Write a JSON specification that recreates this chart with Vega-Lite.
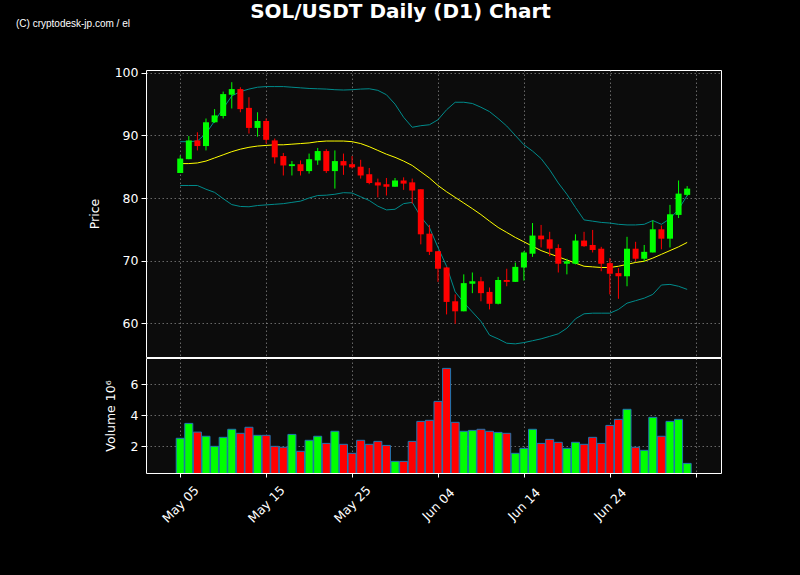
{
  "$schema": "https://vega.github.io/schema/vega-lite/v6.json",
  "background": "#000000",
  "padding": {"left": 15, "top": 2, "right": 80, "bottom": 50},
  "title": {
    "text": "SOL/USDT Daily (D1) Chart",
    "anchor": "middle",
    "font": "DejaVu Sans",
    "fontSize": 20,
    "fontWeight": "bold",
    "color": "white",
    "baseline": "alphabetic",
    "dx": 32,
    "offset": -20
  },
  "datasets": {
    "sol": [
      {"date": "2024-05-05T00:00:00", "open": 84.0, "high": 86.8, "low": 84.0, "close": 86.3, "volume": 2.52, "mid": 85.5, "upper": 89.0, "lower": 82.0},
      {"date": "2024-05-06T00:00:00", "open": 86.2, "high": 89.9, "low": 86.2, "close": 89.2, "volume": 3.48, "mid": 85.5, "upper": 89.0, "lower": 82.0},
      {"date": "2024-05-07T00:00:00", "open": 89.2, "high": 90.5, "low": 87.6, "close": 88.3, "volume": 2.92, "mid": 85.6, "upper": 89.1, "lower": 82.0},
      {"date": "2024-05-08T00:00:00", "open": 88.3, "high": 92.7, "low": 87.6, "close": 92.1, "volume": 2.65, "mid": 85.9, "upper": 90.3, "lower": 81.4},
      {"date": "2024-05-09T00:00:00", "open": 92.1, "high": 94.2, "low": 92.0, "close": 93.2, "volume": 2.00, "mid": 86.4, "upper": 92.3, "lower": 80.9},
      {"date": "2024-05-10T00:00:00", "open": 93.1, "high": 97.0, "low": 92.7, "close": 96.6, "volume": 2.58, "mid": 86.9, "upper": 94.3, "lower": 79.9},
      {"date": "2024-05-11T00:00:00", "open": 96.5, "high": 98.5, "low": 94.3, "close": 97.4, "volume": 3.10, "mid": 87.4, "upper": 96.3, "lower": 78.95},
      {"date": "2024-05-12T00:00:00", "open": 97.4, "high": 97.7, "low": 93.7, "close": 94.2, "volume": 2.84, "mid": 87.8, "upper": 97.0, "lower": 78.65},
      {"date": "2024-05-13T00:00:00", "open": 94.4, "high": 96.1, "low": 90.3, "close": 91.2, "volume": 3.23, "mid": 88.1, "upper": 97.4, "lower": 78.6},
      {"date": "2024-05-14T00:00:00", "open": 91.2, "high": 93.7, "low": 89.8, "close": 92.3, "volume": 2.71, "mid": 88.3, "upper": 97.7, "lower": 78.8},
      {"date": "2024-05-15T00:00:00", "open": 92.3, "high": 92.7, "low": 88.7, "close": 89.3, "volume": 2.71, "mid": 88.4, "upper": 97.8, "lower": 78.9},
      {"date": "2024-05-16T00:00:00", "open": 89.2, "high": 89.5, "low": 85.5, "close": 86.5, "volume": 2.00, "mid": 88.5, "upper": 97.8, "lower": 79.0},
      {"date": "2024-05-17T00:00:00", "open": 86.7, "high": 87.2, "low": 83.6, "close": 85.2, "volume": 1.94, "mid": 88.5, "upper": 97.8, "lower": 79.1},
      {"date": "2024-05-18T00:00:00", "open": 85.1, "high": 85.9, "low": 83.6, "close": 85.4, "volume": 2.77, "mid": 88.6, "upper": 97.7, "lower": 79.3},
      {"date": "2024-05-19T00:00:00", "open": 85.4, "high": 86.0, "low": 83.6, "close": 84.3, "volume": 1.68, "mid": 88.7, "upper": 97.6, "lower": 79.5},
      {"date": "2024-05-20T00:00:00", "open": 84.3, "high": 87.1, "low": 83.9, "close": 86.2, "volume": 2.39, "mid": 88.8, "upper": 97.5, "lower": 80.0},
      {"date": "2024-05-21T00:00:00", "open": 86.0, "high": 88.0, "low": 85.3, "close": 87.5, "volume": 2.65, "mid": 89.0, "upper": 97.45, "lower": 80.4},
      {"date": "2024-05-22T00:00:00", "open": 87.5, "high": 87.8, "low": 84.0, "close": 84.3, "volume": 2.19, "mid": 89.1, "upper": 97.4, "lower": 80.45},
      {"date": "2024-05-23T00:00:00", "open": 84.3, "high": 87.6, "low": 81.5, "close": 85.9, "volume": 2.97, "mid": 89.1, "upper": 97.3, "lower": 80.6},
      {"date": "2024-05-24T00:00:00", "open": 85.9, "high": 87.1, "low": 83.7, "close": 85.2, "volume": 2.13, "mid": 89.1, "upper": 97.25, "lower": 80.85},
      {"date": "2024-05-25T00:00:00", "open": 85.4, "high": 86.7, "low": 84.7, "close": 84.9, "volume": 1.55, "mid": 89.0, "upper": 97.3, "lower": 80.8},
      {"date": "2024-05-26T00:00:00", "open": 85.0, "high": 86.1, "low": 83.1, "close": 83.6, "volume": 2.39, "mid": 88.7, "upper": 97.4, "lower": 80.2},
      {"date": "2024-05-27T00:00:00", "open": 83.8, "high": 84.8, "low": 82.2, "close": 82.4, "volume": 2.13, "mid": 88.2, "upper": 97.45, "lower": 79.6},
      {"date": "2024-05-28T00:00:00", "open": 82.5, "high": 83.1, "low": 80.1, "close": 82.0, "volume": 2.32, "mid": 87.6, "upper": 97.2, "lower": 78.7},
      {"date": "2024-05-29T00:00:00", "open": 82.2, "high": 83.2, "low": 80.4, "close": 81.8, "volume": 2.06, "mid": 87.0, "upper": 96.5, "lower": 78.1},
      {"date": "2024-05-30T00:00:00", "open": 81.8, "high": 83.2, "low": 81.8, "close": 82.8, "volume": 1.03, "mid": 86.5, "upper": 95.0, "lower": 78.2},
      {"date": "2024-05-31T00:00:00", "open": 82.8, "high": 83.3, "low": 81.3, "close": 82.3, "volume": 1.03, "mid": 85.9, "upper": 92.9, "lower": 79.1},
      {"date": "2024-06-01T00:00:00", "open": 82.5, "high": 83.1, "low": 79.1, "close": 81.2, "volume": 2.32, "mid": 85.2, "upper": 91.3, "lower": 79.3},
      {"date": "2024-06-02T00:00:00", "open": 81.4, "high": 81.4, "low": 72.6, "close": 74.2, "volume": 3.61, "mid": 84.2, "upper": 91.55, "lower": 77.0},
      {"date": "2024-06-03T00:00:00", "open": 74.3, "high": 75.7, "low": 70.9, "close": 71.4, "volume": 3.68, "mid": 83.2, "upper": 91.7, "lower": 75.3},
      {"date": "2024-06-04T00:00:00", "open": 71.5, "high": 71.5, "low": 66.6, "close": 68.7, "volume": 4.90, "mid": 82.0, "upper": 92.5, "lower": 72.1},
      {"date": "2024-06-05T00:00:00", "open": 68.9, "high": 69.0, "low": 61.4, "close": 63.4, "volume": 7.03, "mid": 81.0, "upper": 94.1, "lower": 69.1},
      {"date": "2024-06-06T00:00:00", "open": 63.5, "high": 64.6, "low": 59.9, "close": 61.9, "volume": 3.55, "mid": 80.1, "upper": 95.3, "lower": 65.0},
      {"date": "2024-06-07T00:00:00", "open": 61.9, "high": 67.8, "low": 61.9, "close": 66.4, "volume": 2.97, "mid": 79.2, "upper": 95.3, "lower": 63.3},
      {"date": "2024-06-08T00:00:00", "open": 66.3, "high": 68.1, "low": 64.8, "close": 66.7, "volume": 3.03, "mid": 78.3, "upper": 95.1, "lower": 61.8},
      {"date": "2024-06-09T00:00:00", "open": 66.7, "high": 67.4, "low": 63.5, "close": 64.8, "volume": 3.10, "mid": 77.35, "upper": 94.5, "lower": 60.3},
      {"date": "2024-06-10T00:00:00", "open": 65.0, "high": 65.7, "low": 62.2, "close": 63.1, "volume": 2.97, "mid": 76.3, "upper": 93.8, "lower": 58.1},
      {"date": "2024-06-11T00:00:00", "open": 63.1, "high": 67.4, "low": 63.0, "close": 66.9, "volume": 2.90, "mid": 75.3, "upper": 92.7, "lower": 57.5},
      {"date": "2024-06-12T00:00:00", "open": 66.9, "high": 68.7, "low": 65.9, "close": 66.6, "volume": 2.84, "mid": 74.5, "upper": 91.5, "lower": 56.8},
      {"date": "2024-06-13T00:00:00", "open": 66.6, "high": 69.7, "low": 66.6, "close": 69.0, "volume": 1.55, "mid": 73.7, "upper": 90.0, "lower": 56.7},
      {"date": "2024-06-14T00:00:00", "open": 68.9, "high": 71.5, "low": 66.8, "close": 71.3, "volume": 1.87, "mid": 73.0, "upper": 88.5, "lower": 56.9},
      {"date": "2024-06-15T00:00:00", "open": 71.1, "high": 76.0, "low": 70.6, "close": 74.0, "volume": 3.10, "mid": 72.3, "upper": 87.5, "lower": 57.2},
      {"date": "2024-06-16T00:00:00", "open": 74.0, "high": 75.7, "low": 72.1, "close": 73.4, "volume": 2.19, "mid": 71.6, "upper": 86.3, "lower": 57.5},
      {"date": "2024-06-17T00:00:00", "open": 73.4, "high": 74.6, "low": 70.7, "close": 71.9, "volume": 2.45, "mid": 71.1, "upper": 84.5, "lower": 57.9},
      {"date": "2024-06-18T00:00:00", "open": 72.0, "high": 72.6, "low": 68.1, "close": 69.5, "volume": 2.26, "mid": 70.6, "upper": 82.4, "lower": 58.3},
      {"date": "2024-06-19T00:00:00", "open": 69.5, "high": 70.3, "low": 67.8, "close": 69.9, "volume": 1.87, "mid": 70.1, "upper": 80.6, "lower": 59.2},
      {"date": "2024-06-20T00:00:00", "open": 69.5, "high": 74.2, "low": 69.4, "close": 73.2, "volume": 2.26, "mid": 69.6, "upper": 78.5, "lower": 60.7},
      {"date": "2024-06-21T00:00:00", "open": 73.2, "high": 74.6, "low": 72.2, "close": 72.3, "volume": 2.13, "mid": 69.1, "upper": 76.5, "lower": 61.5},
      {"date": "2024-06-22T00:00:00", "open": 72.5, "high": 74.9, "low": 71.3, "close": 71.7, "volume": 2.58, "mid": 69.0, "upper": 76.3, "lower": 61.6},
      {"date": "2024-06-23T00:00:00", "open": 71.9, "high": 72.2, "low": 68.3, "close": 69.5, "volume": 2.19, "mid": 68.9, "upper": 76.1, "lower": 61.6},
      {"date": "2024-06-24T00:00:00", "open": 69.6, "high": 70.4, "low": 64.6, "close": 67.9, "volume": 3.35, "mid": 68.9, "upper": 76.0, "lower": 61.6},
      {"date": "2024-06-25T00:00:00", "open": 68.0, "high": 68.8, "low": 63.9, "close": 67.5, "volume": 3.74, "mid": 69.1, "upper": 75.8, "lower": 62.2},
      {"date": "2024-06-26T00:00:00", "open": 67.5, "high": 73.8, "low": 65.9, "close": 71.9, "volume": 4.39, "mid": 69.4, "upper": 75.7, "lower": 63.2},
      {"date": "2024-06-27T00:00:00", "open": 71.9, "high": 73.0, "low": 69.9, "close": 70.3, "volume": 1.94, "mid": 69.7, "upper": 75.7, "lower": 63.6},
      {"date": "2024-06-28T00:00:00", "open": 70.3, "high": 72.5, "low": 69.9, "close": 71.4, "volume": 1.74, "mid": 69.9, "upper": 75.8, "lower": 64.0},
      {"date": "2024-06-29T00:00:00", "open": 71.3, "high": 76.4, "low": 71.3, "close": 75.0, "volume": 3.87, "mid": 70.4, "upper": 76.4, "lower": 64.6},
      {"date": "2024-06-30T00:00:00", "open": 75.0, "high": 75.6, "low": 71.8, "close": 73.5, "volume": 2.65, "mid": 71.0, "upper": 75.8, "lower": 66.1},
      {"date": "2024-07-01T00:00:00", "open": 73.5, "high": 78.9, "low": 72.1, "close": 77.4, "volume": 3.61, "mid": 71.6, "upper": 76.7, "lower": 66.2},
      {"date": "2024-07-02T00:00:00", "open": 77.3, "high": 82.8, "low": 76.8, "close": 80.7, "volume": 3.74, "mid": 72.2, "upper": 78.2, "lower": 65.9},
      {"date": "2024-07-03T00:00:00", "open": 80.5, "high": 81.9, "low": 80.3, "close": 81.5, "volume": 0.90, "mid": 72.9, "upper": 80.4, "lower": 65.4}
    ]
  },
  "spacing": -2,
  "vconcat": [
    {
      "width": 575,
      "height": 287,
      "title": {
        "text": "(C) cryptodesk-jp.com / el",
        "anchor": "start",
        "frame": "group",
        "dx": -130,
        "font": "Liberation Sans",
        "fontSize": 10,
        "fontWeight": "normal",
        "color": "white",
        "baseline": "alphabetic",
        "offset": 30
      },
      "data": {"name": "sol"},
      "encoding": {
        "x": {
          "field": "date",
          "type": "temporal",
          "title": null,
          "scale": {"padding": 0, "domain": [
            {"year": 2024, "month": 5, "date": 1, "hours": 0, "minutes": 25},
            {"year": 2024, "month": 7, "date": 6, "hours": 22, "minutes": 30}
          ]},
          "axis": {
            "values": [
              {"year": 2024, "month": 5, "date": 5},
              {"year": 2024, "month": 5, "date": 15},
              {"year": 2024, "month": 5, "date": 25},
              {"year": 2024, "month": 6, "date": 4},
              {"year": 2024, "month": 6, "date": 14},
              {"year": 2024, "month": 6, "date": 24},
              {"year": 2024, "month": 7, "date": 4}
            ],
            "labels": false,
            "ticks": false,
            "labelPadding": 0,
            "grid": true
          }
        }
      },
      "layer": [
        {
          "mark": {"type": "line", "color": "#008b8b", "strokeWidth": 1},
          "encoding": {
            "y": {
              "field": "upper",
              "type": "quantitative",
              "title": "Price",
              "scale": {"domain": [54.6, 100.45], "nice": false, "zero": false},
              "axis": {"values": [60, 70, 80, 90, 100], "format": "d", "grid": true}
            }
          }
        },
        {
          "mark": {"type": "line", "color": "#008b8b", "strokeWidth": 1},
          "encoding": {"y": {"field": "lower", "type": "quantitative", "title": "Price"}}
        },
        {
          "mark": {"type": "line", "color": "#ffff00", "strokeWidth": 1},
          "encoding": {"y": {"field": "mid", "type": "quantitative", "title": "Price"}}
        },
        {
          "mark": {"type": "rule", "strokeWidth": 1},
          "encoding": {
            "y": {"field": "low", "type": "quantitative", "title": "Price"},
            "y2": {"field": "high"},
            "color": {"condition": {"test": "datum.close >= datum.open", "value": "#00ff00"}, "value": "#ff0000"}
          }
        },
        {
          "mark": {"type": "bar", "size": 6},
          "encoding": {
            "y": {"field": "open", "type": "quantitative", "title": "Price"},
            "y2": {"field": "close"},
            "color": {"condition": {"test": "datum.close >= datum.open", "value": "#00ff00"}, "value": "#ff0000"}
          }
        }
      ]
    },
    {
      "width": 575,
      "height": 115,
      "data": {"name": "sol"},
      "mark": {"type": "bar", "size": 8, "stroke": "#1f77b4", "strokeWidth": 1, "clip": true},
      "encoding": {
        "x": {
          "field": "date",
          "type": "temporal",
          "title": null,
          "scale": {"padding": 0, "domain": [
            {"year": 2024, "month": 5, "date": 1, "hours": 0, "minutes": 25},
            {"year": 2024, "month": 7, "date": 6, "hours": 22, "minutes": 30}
          ]},
          "axis": {
            "values": [
              {"year": 2024, "month": 5, "date": 5},
              {"year": 2024, "month": 5, "date": 15},
              {"year": 2024, "month": 5, "date": 25},
              {"year": 2024, "month": 6, "date": 4},
              {"year": 2024, "month": 6, "date": 14},
              {"year": 2024, "month": 6, "date": 24},
              {"year": 2024, "month": 7, "date": 4}
            ],
            "labelExpr": "month(datum.value) == 6 ? '' : timeFormat(datum.value, '%b %d')",
            "labelAngle": -45,
            "labelAlign": "center",
            "labelBaseline": "middle",
            "labelPadding": 27,
            "tickSize": 4,
            "grid": true
          }
        },
        "y": {
          "field": "volume",
          "type": "quantitative",
          "title": "Volume  10⁶",
          "scale": {"domain": [0.28, 7.7], "nice": false, "zero": false},
          "axis": {"values": [2, 4, 6], "format": "d", "grid": true}
        },
        "color": {"condition": {"test": "datum.close >= datum.open", "value": "#00ff00"}, "value": "#ff0000"}
      }
    }
  ],
  "config": {
    "view": {"stroke": "#ffffff", "strokeWidth": 1, "fill": "#0c0c0c"},
    "axis": {
      "domain": false,
      "labelColor": "#ffffff",
      "labelFont": "DejaVu Sans",
      "labelFontSize": 12.5,
      "labelPadding": 3,
      "tickColor": "#ffffff",
      "tickSize": 5,
      "titleColor": "#ffffff",
      "titleFont": "DejaVu Sans",
      "titleFontSize": 12.5,
      "titleFontWeight": "normal",
      "titlePadding": 13,
      "gridColor": "#b0b0b0",
      "gridOpacity": 0.7,
      "gridDash": [1.5, 2.5],
      "gridWidth": 0.8
    }
  }
}
